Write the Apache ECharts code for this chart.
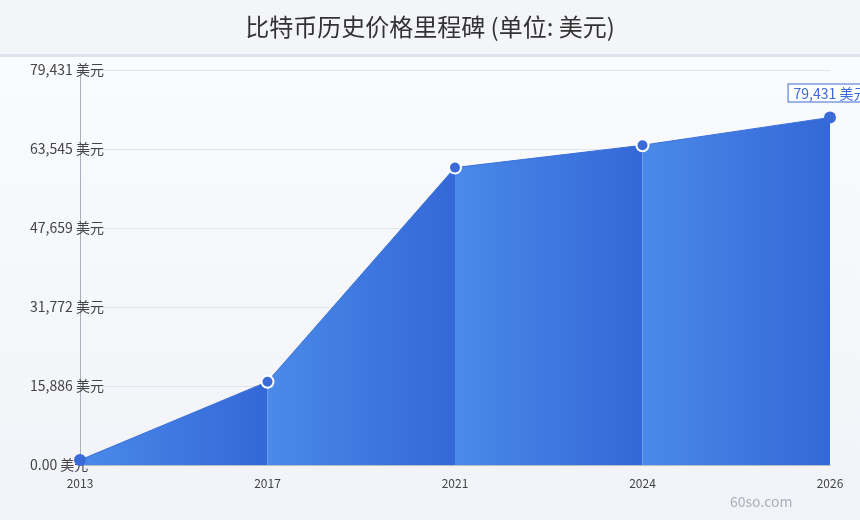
<!DOCTYPE html>
<html>
<head>
<meta charset="utf-8">
<script src="https://cdn.jsdelivr.net/npm/echarts@6/dist/echarts.min.js"></script>
<style>html,body{margin:0;padding:0;}#c{width:860px;height:520px;}</style>
</head>
<body>
<div id="c"></div>
<script>
var titleText = '比特币历史价格里程碑 (单位: 美元)';
var years = ['2013', '2017', '2021', '2024', '2026'];
var prices = [1000, 16750, 59800, 64300, 69900];
var yMax = 79431;
var unit = '美元';

var chart = echarts.init(document.getElementById('c'));
function fmtVal(v) {
  if (v === 0) return '0.00 ' + unit;
  return Math.round(v).toLocaleString('en-US') + ' ' + unit;
}
var segSeries = [];
for (var k = 0; k < years.length - 1; k++) {
  segSeries.push({
    type: 'line',
    data: prices.map(function (v, i) { return (i === k || i === k + 1) ? v : null; }),
    showSymbol: false,
    symbol: 'none',
    lineStyle: { width: 1, color: '#3c70da' },
    areaStyle: {
      opacity: 1,
      color: new echarts.graphic.LinearGradient(0, 0, 1, 0, [
        { offset: 0, color: '#4a8ae8' },
        { offset: 1, color: '#3467d7' }
      ])
    },
    z: 2,
    silent: true
  });
}
var last = prices.length - 1;
segSeries.push({
  type: 'line',
  data: prices.map(function (v, i) {
    var edge = (i === 0 || i === last);
    var item = {
      value: v,
      itemStyle: { color: '#3a6bd9', borderColor: '#ffffff', borderWidth: edge ? 0 : 2 }
    };
    if (i === last) {
      item.label = {
        show: true,
        position: 'top',
        distance: 10,
        formatter: function () { return fmtVal(yMax); },
        color: '#3a6bd9',
        fontSize: 14,
        fontFamily: 'Noto Sans CJK SC',
        backgroundColor: '#ffffff',
        borderColor: '#3a6bd9',
        borderWidth: 1,
        padding: [2, 4, 1, 5]
      };
    }
    return item;
  }),
  symbol: 'circle',
  symbolSize: 12,
  showSymbol: true,
  lineStyle: { width: 0, opacity: 0 },
  z: 5,
  silent: true,
  animation: false
});

chart.setOption({
  animation: false,
  backgroundColor: new echarts.graphic.LinearGradient(0, 0, 0, 1, [
    { offset: 0, color: '#fbfcfe' },
    { offset: 1, color: '#f1f3f8' }
  ]),
  graphic: [
    { type: 'rect', z: -1, silent: true, shape: { x: 0, y: 0, width: 860, height: 54 }, style: { fill: '#f4f5f9' } },
    { type: 'rect', z: -1, silent: true, shape: { x: 0, y: 54, width: 860, height: 3 }, style: { fill: '#dfe2ea' } },
    { type: 'text', z: 10, silent: true, left: 730, top: 495, style: { text: '60so.com', fill: '#aab0bc', fontSize: 14, fontFamily: 'Noto Sans CJK SC' } }
  ],
  title: {
    text: titleText,
    left: 'center',
    top: 10,
    textStyle: { fontSize: 24, fontWeight: 'normal', color: '#333333', fontFamily: 'Noto Sans CJK SC' }
  },
  grid: { left: 80, right: 30, top: 70, bottom: 55, containLabel: false },
  xAxis: {
    type: 'category',
    data: years,
    boundaryGap: false,
    axisLine: { show: true, lineStyle: { color: '#b8bcc6' } },
    axisTick: { show: false },
    axisLabel: { color: '#444444', fontSize: 12, margin: 12, fontFamily: 'Noto Sans CJK SC' },
    splitLine: { show: false }
  },
  yAxis: {
    type: 'value',
    min: 0,
    max: yMax,
    interval: yMax / 5,
    axisLine: { show: true, lineStyle: { color: '#aab0bc' } },
    axisTick: { show: false },
    axisLabel: {
      align: 'left',
      margin: 50,
      color: '#444444',
      fontSize: 14,
      fontFamily: 'Noto Sans CJK SC',
      formatter: fmtVal
    },
    splitLine: { show: true, lineStyle: { color: '#e1e4ea' } }
  },
  series: segSeries
});
</script>
</body>
</html>
